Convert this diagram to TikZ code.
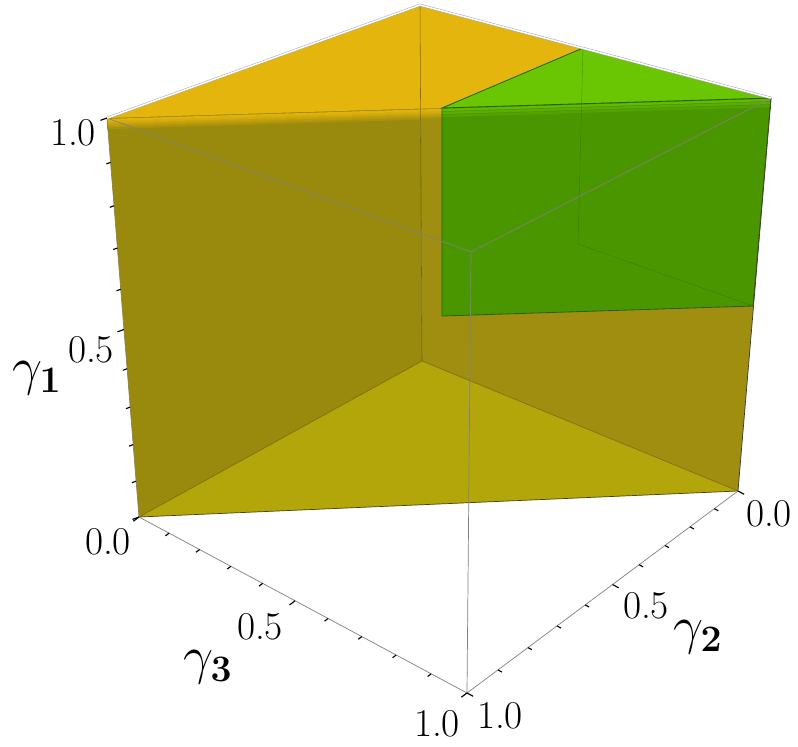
\RequirePackage{fix-cm}
\documentclass[tikz,border=0pt]{standalone}
\usepackage{amsmath}
\usepackage{tikz}
\usetikzlibrary{calc}
\definecolor{topyellow}{RGB}{228,181,12}
\definecolor{leftolive}{RGB}{153,137,12}
\definecolor{rightolive}{RGB}{160,142,16}
\definecolor{floorolive}{RGB}{179,166,10}
\definecolor{greentop}{RGB}{106,198,2}
\definecolor{greenfront}{RGB}{74,150,0}
\definecolor{greenedge}{RGB}{40,95,10}
\newcommand{\ticklabelfont}{\fontsize{28}{32}\selectfont}
\newcommand{\axislabelfont}{\fontsize{38}{42}\selectfont}
\tikzset{
    boxedge/.style={
        draw=black!50,
        line width=0.5pt
    },
    rimedge/.style={
        draw=gray!70,
        double=white,
        double distance=1.1pt,
        line width=0.35pt
    },
    faceedge/.style={
        draw=black!55!leftolive,
        line width=0.4pt,
        opacity=0.6
    },
    tick/.style={
        draw=black,
        line width=0.8pt
    },
    ticklabel/.style={
        inner sep=0pt,
        font=\ticklabelfont
    },
    axislabel/.style={
        inner sep=0pt,
        font=\axislabelfont
    }
}

\begin{document}
\begin{tikzpicture}[x=0.025cm, y=-0.025cm]
\useasboundingbox (0,0) rectangle (798,746);

% prism corners, as seen in perspective
\coordinate (topback) at (420,5);
\coordinate (topleft) at (107,118);
\coordinate (topright) at (771,98);
\coordinate (botback) at (422,361);
\coordinate (botleft) at (139,517);
\coordinate (botright) at (738,491);
\coordinate (topfront) at (471,252);
\coordinate (front) at (467,693);
% green block
\coordinate (gback) at (583,48);
\coordinate (gfront) at (442,108);
\coordinate (gbotfront) at (442,316);
\coordinate (gbotright) at (753,306);
\coordinate (gbotback) at (578,244);

% faces
\fill[leftolive] (topback) -- (topleft) -- (botleft) -- (botback) -- cycle;
\fill[rightolive] (topback) -- (topright) -- (botright) -- (botback) -- cycle;
\fill[floorolive] (botback) -- (botleft) -- (botright) -- cycle;
\foreach \d/\c in {10/20, 8/40, 6/60, 4/80, 2/95} {
    \draw[line width=1.6pt, topyellow!\c!leftolive] ($(topleft)+(0,\d)$) -- ($(topright)+(0,\d)$);
}
\fill[topyellow] (topback) -- (topleft) -- (topright) -- cycle;
\fill[greentop] (gback) -- (gfront) -- (topright) -- cycle;
\fill[greenfront] (gfront) -- (topright) -- (gbotright) -- (gbotfront) -- cycle;
\foreach \d/\c in {8/25, 5/50, 2/75} {
    \draw[line width=1.6pt, greentop!\c!greenfront] ($(gfront)+(0,\d)$) -- ($(topright)+(-1,\d)$);
}

% inner edges
\draw[faceedge] (topback) -- (botback);
\draw[faceedge] (botback) -- (botleft);
\draw[faceedge] (botback) -- (botright);
\draw[draw=black!60!floorolive, line width=0.5pt] (botleft) -- (botright);
\draw[draw=black!60!rightolive, line width=0.5pt] (topright) -- (botright);
\draw[draw=greenedge, line width=0.3pt, opacity=0.5] (gback) -- (gbotback) -- (gbotright);
\draw[draw=greenedge, line width=0.6pt] (gback) -- (gfront) -- (topright);
\draw[draw=greenedge, line width=0.6pt] (gfront) -- (gbotfront) -- (gbotright) -- (topright);
\draw[draw=green!60!black, line width=0.8pt] (gback) -- (topright);

% bounding box
\draw[boxedge] (topleft) -- (topfront) -- (topright);
\draw[boxedge] (topfront) -- (front);
\draw[boxedge] (topleft) -- (botleft);
\draw[boxedge] (botleft) -- (front) -- (botright);
\draw[rimedge] (topleft) -- (topback) -- (topright);

% ticks
\foreach \t in {0,1,...,10} {
    \pgfmathsetmacro\f{0.908*\t/10/(1-0.092*\t/10)}
    \pgfmathsetmacro\len{ifthenelse(mod(\t,5)==0,7,4.5)}
    \draw[tick] ($(botleft)!\f!(front)$) -- ++(-0.8*\len,0.6*\len);
}
\foreach \t in {0,1,...,10} {
    \pgfmathsetmacro\f{0.862*\t/10/(1-0.138*\t/10)}
    \pgfmathsetmacro\len{ifthenelse(mod(\t,5)==0,7,4.5)}
    \draw[tick] ($(botright)!\f!(front)$) -- ++(0.88*\len,0.47*\len);
}
\foreach \t in {0,1,...,10} {
    \pgfmathsetmacro\f{1.128*\t/10/(1+0.128*\t/10)}
    \pgfmathsetmacro\len{ifthenelse(mod(\t,5)==0,7,4.5)}
    \draw[tick] ($(topleft)!\f!(botleft)$) -- ++(-0.94*\len,0.34*\len);
}

% labels
\node[ticklabel] (g1one) at (73,133) {1.0};
\node[ticklabel] (g1half) at (91,350) {0.5};
\node[axislabel] (g1name) at (37,378) {$\gamma_{\mathbf{1}}$};
\node[ticklabel] (g3zero) at (108,542) {0.0};
\node[ticklabel] (g3half) at (260,627) {0.5};
\node[ticklabel] (g3one) at (437,724) {1.0};
\node[axislabel] (g3name) at (208,667) {$\gamma_{\mathbf{3}}$};
\node[ticklabel] (g2zero) at (769,514) {0.0};
\node[ticklabel] (g2half) at (646,606) {0.5};
\node[ticklabel] (g2one) at (500,716) {1.0};
\node[axislabel] (g2name) at (698,637) {$\gamma_{\mathbf{2}}$};

\end{tikzpicture}
\end{document}
